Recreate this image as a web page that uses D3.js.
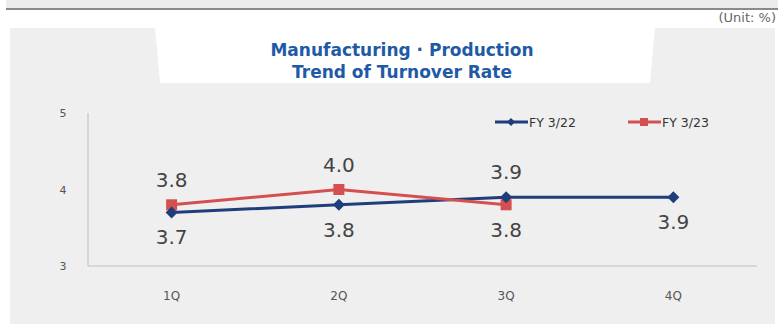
<!DOCTYPE html>
<html><head><meta charset="utf-8">
<script src="https://cdn.jsdelivr.net/npm/d3@7"></script>
<style>body{margin:0;background:#fff}svg{display:block}</style>
</head><body>
<svg id="c" width="779" height="324"></svg>
<script>
const categories = ["1Q","2Q","3Q","4Q"];
const fy22 = [3.7, 3.8, 3.9, 3.9];
const fy23 = [3.8, 4.0, 3.8];
const yTicks = [3, 4, 5];
const seriesNames = ["FY 3/22", "FY 3/23"];
const titleLines = ["Manufacturing · Production", "Trend of Turnover Rate"];
const unitLabel = "(Unit: %)";

const svg = d3.select("#c");
const font = "Verdana, 'DejaVu Sans', sans-serif";
const blue = "#1f3d7a", red = "#d45050";

// top bar
svg.append("rect").attr("x",6).attr("y",-2).attr("width",772).attr("height",10).attr("fill","#ececec");
svg.append("rect").attr("x",6).attr("y",8).attr("width",772).attr("height",2).attr("fill","#8a8a8a");
svg.append("text").attr("x",776).attr("y",22).attr("text-anchor","end")
  .attr("font-family",font).attr("font-size",13).attr("fill","#666").text(unitLabel);

// panel
svg.append("rect").attr("x",10).attr("y",28).attr("width",765).attr("height",296).attr("fill","#efefef");
svg.append("polygon").attr("points","155,28 655,28 650,83 160,83").attr("fill","#fff");

svg.append("text").attr("x",402).attr("text-anchor","middle").attr("font-family",font)
  .attr("font-weight","bold").attr("font-size",17).attr("fill","#1f5aa6")
  .attr("textLength",null)
  .selectAll("tspan").data(titleLines).join("tspan")
  .attr("x",402).attr("y",(d,i)=>56+i*22).text(d=>d);

const x = d3.scalePoint().domain(categories).range([88,757]).padding(0.5);
const y = d3.scaleLinear().domain([3,5]).range([266,113]);

// axes
svg.append("line").attr("x1",88).attr("x2",88).attr("y1",113).attr("y2",266).attr("stroke","#bdbdbd").attr("stroke-width",1);
svg.append("line").attr("x1",88).attr("x2",757).attr("y1",266).attr("y2",266).attr("stroke","#cfcfcf").attr("stroke-width",1.5);

svg.selectAll(".yt").data(yTicks).join("text").attr("x",63).attr("y",d=>y(d)+4)
  .attr("text-anchor","middle").attr("font-family",font).attr("font-size",11).attr("fill","#555").text(d=>d);
svg.selectAll(".xt").data(categories).join("text").attr("x",d=>x(d)).attr("y",300)
  .attr("text-anchor","middle").attr("font-family",font).attr("font-size",12).attr("fill","#555").text(d=>d);

const line = d3.line().x((d,i)=>x(categories[i])).y(d=>y(d));

svg.append("path").datum(fy22).attr("d",line).attr("fill","none").attr("stroke",blue).attr("stroke-width",3);
svg.append("path").datum(fy23).attr("d",line).attr("fill","none").attr("stroke",red).attr("stroke-width",3);

svg.selectAll(".m23").data(fy23).join("rect")
  .attr("x",(d,i)=>x(categories[i])-5.5).attr("y",d=>y(d)-5.5).attr("width",11).attr("height",11).attr("fill",red);
svg.selectAll(".m22").data(fy22).join("path")
  .attr("transform",(d,i)=>`translate(${x(categories[i])},${y(d)})`)
  .attr("d","M0,-6L6,0L0,6L-6,0Z").attr("fill",blue);

// data labels
const pos22 = [1, 1, -1, 1]; // 1 = below, -1 = above
const pos23 = [-1, -1, 1];
function labels(data, pos){
  svg.append("g").selectAll("text").data(data).join("text")
    .attr("x",(d,i)=>x(categories[i])).attr("y",(d,i)=>pos[i]>0 ? y(d)+32 : y(d)-18)
    .attr("text-anchor","middle").attr("font-family","'DejaVu Sans', Verdana, sans-serif").attr("font-size",20)
    .attr("fill","#444").text(d=>d.toFixed(1));
}
labels(fy22,pos22);
labels(fy23,pos23);

// legend
const leg = [{name:seriesNames[0],c:blue,x:495,shape:"d"},{name:seriesNames[1],c:red,x:628,shape:"s"}];
leg.forEach(l=>{
  const g = svg.append("g").attr("transform",`translate(${l.x},122)`);
  g.append("line").attr("x1",0).attr("x2",33).attr("stroke",l.c).attr("stroke-width",3);
  if(l.shape==="d") g.append("path").attr("d","M16,-4L20,0L16,4L12,0Z").attr("fill",l.c);
  else g.append("rect").attr("x",12).attr("y",-4).attr("width",8).attr("height",8).attr("fill",l.c);
  g.append("text").attr("x",34).attr("y",4.5).attr("font-family",font).attr("font-size",12.5).attr("fill","#333").text(l.name);
});
</script>
</body></html>
